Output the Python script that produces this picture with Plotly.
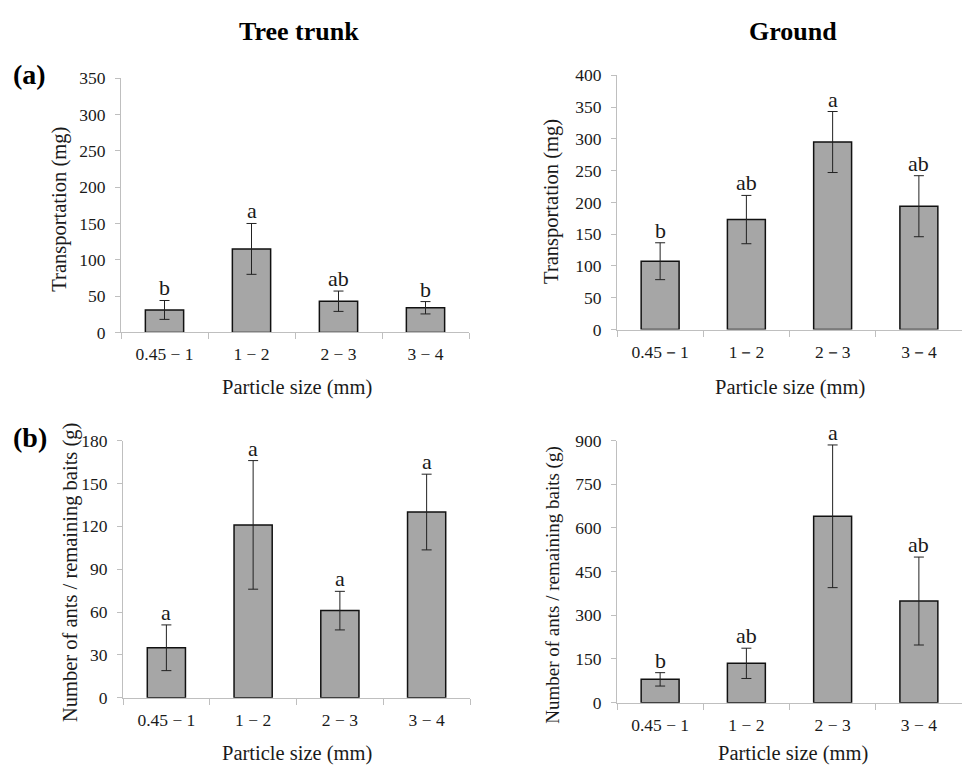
import plotly.graph_objects as go

# ---------------- data ----------------
cats_dash = ["0.45 − 1", "1 − 2", "2 − 3", "3 − 4"]
cats_full = ["0.45－1", "1－2", "2－3", "3－4"]

trunk_transport = [31, 115, 43, 34]
trunk_transport_err = [13, 35, 14, 8.5]
trunk_transport_letters = ["b", "a", "ab", "b"]

ground_transport = [107.5, 173, 295, 194]
ground_transport_err = [29, 38, 48, 48]
ground_transport_letters = ["b", "ab", "a", "ab"]

trunk_ratio = [35, 121, 61, 130]
trunk_ratio_err = [16, 45, 13.5, 26.5]
trunk_ratio_letters = ["a", "a", "a", "a"]

ground_ratio = [80, 135, 640, 349]
ground_ratio_err = [23, 52, 245, 151]
ground_ratio_letters = ["b", "ab", "a", "ab"]

x_title = "Particle size (mm)"
y_title_a = "Transportation (mg)"
y_title_b = "Number of ants / remaining baits (g)"

W, H = 962, 775
FONT = "Liberation Serif"
BAR = "#a6a6a6"
AXC = "#bfbfbf"
TXT = "#1a1a1a"


def px_x(a, b):
    return [a / W, min(b / W, 1.0)]


def px_y(top, bottom):
    return [1 - bottom / H, 1 - top / H]


# layout placement (pixels) for each panel
panels = [
    dict(x="x", y="y", cats=cats_dash, vals=trunk_transport, err=trunk_transport_err,
         letters=trunk_transport_letters, dx=px_x(121, 469), dy=px_y(70, 331),
         rng=[0, 350], dtick=50, ytitle=y_title_a, yt=(60, 205, 20.5), xt=(297, 388)),
    dict(x="x2", y="y2", cats=cats_full, vals=ground_transport, err=ground_transport_err,
         letters=ground_transport_letters, dx=px_x(617, 964), dy=px_y(67, 328),
         rng=[0, 400], dtick=50, ytitle=y_title_a, yt=(552, 197, 20.5), xt=(790, 388)),
    dict(x="x3", y="y3", cats=cats_dash, vals=trunk_ratio, err=trunk_ratio_err,
         letters=trunk_ratio_letters, dx=px_x(123, 470), dy=px_y(442, 706),
         rng=[0, 180], dtick=30, ytitle=y_title_b, yt=(70, 578, 20.5), xt=(297, 763)),
    dict(x="x4", y="y4", cats=cats_dash, vals=ground_ratio, err=ground_ratio_err,
         letters=ground_ratio_letters, dx=px_x(617, 964), dy=px_y(442, 711),
         rng=[0, 900], dtick=150, ytitle=y_title_b, yt=(553, 590, 19), xt=(793, 763)),
]

fig = go.Figure()
layout = dict(
    width=W, height=H, margin=dict(l=0, r=0, t=0, b=0),
    paper_bgcolor="white", plot_bgcolor="white", showlegend=False,
    font=dict(family=FONT, color=TXT, size=17.5),
    bargap=0.56,
)
annotations = []

for i, p in enumerate(panels):
    fig.add_trace(go.Bar(
        x=p["cats"], y=p["vals"], xaxis=p["x"], yaxis=p["y"],
        marker=dict(color=BAR, line=dict(color="#111111", width=1.5)),
        error_y=dict(type="data", array=p["err"], visible=True,
                     color="#222222", thickness=1, width=5),
        hoverinfo="skip",
    ))
    for c, v, e, l in zip(p["cats"], p["vals"], p["err"], p["letters"]):
        annotations.append(dict(
            x=c, y=v + e, xref=p["x"], yref=p["y"], text=l, showarrow=False,
            yanchor="bottom", xanchor="center", yshift=-2,
            font=dict(family=FONT, size=22, color=TXT),
        ))
    xa = "xaxis" if i == 0 else f"xaxis{i+1}"
    ya = "yaxis" if i == 0 else f"yaxis{i+1}"
    layout[xa] = dict(
        domain=p["dx"], anchor=p["y"], type="category",
        showline=True, linecolor=AXC, linewidth=1,
        ticks="outside", tickson="boundaries", tickcolor=AXC, ticklen=6,
        ticklabelstandoff=6,
        tickfont=dict(family=FONT, size=17.5, color=TXT),
        showgrid=False, zeroline=False,
    )
    layout[ya] = dict(
        domain=p["dy"], anchor=p["x"], range=p["rng"], dtick=p["dtick"],
        showline=True, linecolor=AXC, linewidth=1,
        ticks="outside", tickcolor=AXC, ticklen=5,
        ticklabelstandoff=6,
        tickfont=dict(family=FONT, size=17.5, color=TXT),
        showgrid=False, zeroline=False,
    )
    # axis titles
    ytx, yty, yfs = p["yt"]
    annotations.append(dict(
        x=ytx / W, y=1 - yty / H, xref="paper", yref="paper", text=p["ytitle"],
        textangle=-90, showarrow=False, xanchor="center", yanchor="middle",
        font=dict(family=FONT, size=yfs, color=TXT),
    ))
    xtx, xty = p["xt"]
    annotations.append(dict(
        x=xtx / W, y=1 - xty / H, xref="paper", yref="paper", text=x_title,
        showarrow=False, xanchor="center", yanchor="middle",
        font=dict(family=FONT, size=20.5, color=TXT),
    ))

annotations += [
    dict(x=299 / W, y=1 - 22 / H, xref="paper", yref="paper", text="<b>Tree trunk</b>",
         showarrow=False, font=dict(family=FONT, size=26, color="black"),
         xanchor="center", yanchor="middle"),
    dict(x=793 / W, y=1 - 22 / H, xref="paper", yref="paper", text="<b>Ground</b>",
         showarrow=False, font=dict(family=FONT, size=26, color="black"),
         xanchor="center", yanchor="middle"),
    dict(x=11 / W, y=1 - 66 / H, xref="paper", yref="paper", text="<b>(a)</b>",
         showarrow=False, font=dict(family=FONT, size=28, color="black"),
         xanchor="left", yanchor="middle"),
    dict(x=11 / W, y=1 - 439 / H, xref="paper", yref="paper", text="<b>(b)</b>",
         showarrow=False, font=dict(family=FONT, size=28, color="black"),
         xanchor="left", yanchor="middle"),
]
layout["annotations"] = annotations
fig.update_layout(**layout)

fig.write_html("out.html", post_script="document.body.style.margin='0';",
               config={"displayModeBar": False})
